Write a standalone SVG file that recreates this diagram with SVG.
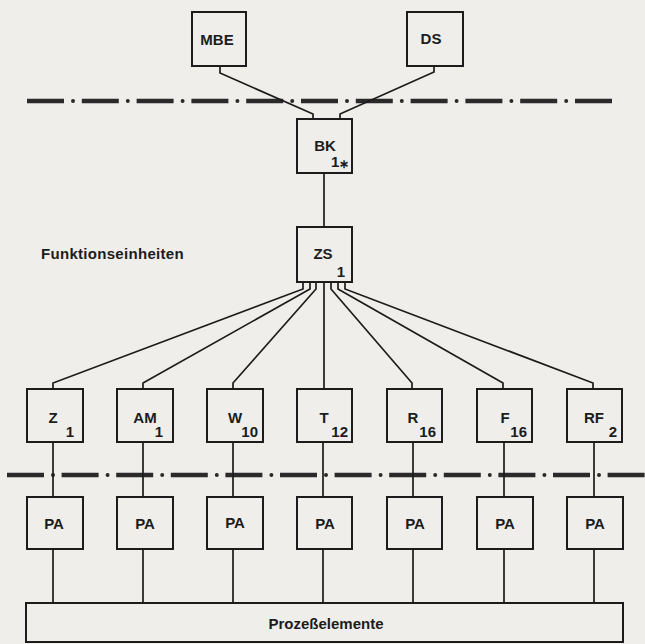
<svg xmlns="http://www.w3.org/2000/svg" width="645" height="644" viewBox="0 0 645 644">
<style>
.box{fill:none;stroke:#1c1c1c;stroke-width:2}
.ln{fill:none;stroke:#1c1c1c;stroke-width:1.7}
.t{font-family:"Liberation Sans",Arial,sans-serif;font-weight:bold;font-size:15px;fill:#1c1c1c}
.c{text-anchor:middle}
.e{text-anchor:end}
.dash{stroke:#2a2a2a;stroke-width:4.5;fill:none}
.dot{stroke:#2a2a2a;stroke-width:4;stroke-linecap:round;fill:none}
</style>
<rect width="645" height="644" fill="#efeeeb"/>
<g id="separators">
<line class="dash" x1="27" y1="101" x2="612" y2="101" stroke-dasharray="37 17.8"/>
<line class="dot" x1="73" y1="101" x2="567" y2="101" stroke-dasharray="0 54.8"/>
<line class="dash" x1="7" y1="475" x2="645" y2="475" stroke-dasharray="37 17.6"/>
<line class="dot" x1="53" y1="475" x2="645" y2="475" stroke-dasharray="0 54.6"/>
</g>
<g id="connectors">
<path class="ln" d="M220,66 V73 L313,114 V119"/>
<path class="ln" d="M434,66 V72 L340,114 V119"/>
<path class="ln" d="M324,173 V227"/>
<path class="ln" d="M303,282 V289 L53,383 V389"/>
<path class="ln" d="M310,282 V289 L143,383 V389"/>
<path class="ln" d="M316,282 V289 L233,383 V389"/>
<path class="ln" d="M324,282 V389"/>
<path class="ln" d="M331,282 V289 L412,383 V389"/>
<path class="ln" d="M338,282 V289 L503,383 V389"/>
<path class="ln" d="M345,282 V289 L593,383 V389"/>
<path class="ln" d="M53,442 V497 M143,442 V497 M233,442 V497 M323,442 V497 M413,442 V497 M504,442 V497 M594,442 V497"/>
<path class="ln" d="M53,549 V603 M143,549 V603 M233,549 V603 M323,549 V603 M413,549 V603 M504,549 V603 M594,549 V603"/>
</g>
<g id="MBE"><rect class="box" x="192" y="12" width="54" height="54"/><text class="t c" x="217" y="45">MBE</text></g>
<g id="DS"><rect class="box" x="407" y="12" width="56" height="54"/><text class="t c" x="431" y="44">DS</text></g>
<g id="BK"><rect class="box" x="297" y="119" width="55" height="54"/><text class="t c" x="325" y="151">BK</text><text class="t" x="331" y="167">1<tspan font-size="12" dy="1">∗</tspan></text></g>
<g id="ZS"><rect class="box" x="297" y="227" width="55" height="55"/><text class="t c" x="323" y="259">ZS</text><text class="t e" x="345" y="277">1</text></g>
<g id="label"><text class="t" x="41" y="259" letter-spacing="0.3">Funktionseinheiten</text></g>
<g id="Z"><rect class="box" x="27" y="389" width="56" height="53"/><text class="t c" x="53" y="423">Z</text><text class="t e" x="74" y="437">1</text></g>
<g id="AM"><rect class="box" x="117" y="389" width="56" height="53"/><text class="t c" x="145" y="423">AM</text><text class="t e" x="163" y="437">1</text></g>
<g id="W"><rect class="box" x="207" y="389" width="56" height="53"/><text class="t c" x="235" y="423">W</text><text class="t e" x="258" y="437">10</text></g>
<g id="T"><rect class="box" x="297" y="389" width="55" height="53"/><text class="t c" x="324" y="423">T</text><text class="t e" x="348" y="437">12</text></g>
<g id="R"><rect class="box" x="387" y="389" width="55" height="53"/><text class="t c" x="413" y="423">R</text><text class="t e" x="436" y="437">16</text></g>
<g id="F"><rect class="box" x="477" y="389" width="55" height="53"/><text class="t c" x="505" y="423">F</text><text class="t e" x="527" y="437">16</text></g>
<g id="RF"><rect class="box" x="567" y="389" width="55" height="53"/><text class="t c" x="594" y="423">RF</text><text class="t e" x="617" y="437">2</text></g>
<g id="PA1"><rect class="box" x="27" y="497" width="56" height="52"/><text class="t c" x="54" y="529">PA</text></g>
<g id="PA2"><rect class="box" x="117" y="497" width="56" height="52"/><text class="t c" x="145" y="529">PA</text></g>
<g id="PA3"><rect class="box" x="207" y="497" width="56" height="52"/><text class="t c" x="235" y="528">PA</text></g>
<g id="PA4"><rect class="box" x="297" y="497" width="55" height="52"/><text class="t c" x="325" y="529">PA</text></g>
<g id="PA5"><rect class="box" x="387" y="497" width="55" height="52"/><text class="t c" x="415" y="529">PA</text></g>
<g id="PA6"><rect class="box" x="477" y="497" width="56" height="52"/><text class="t c" x="505" y="529">PA</text></g>
<g id="PA7"><rect class="box" x="567" y="497" width="56" height="52"/><text class="t c" x="595" y="529">PA</text></g>
<g id="Prozesselemente"><rect class="box" x="26" y="603" width="597" height="39"/><text class="t c" x="326" y="629">Prozeßelemente</text></g>
</svg>
